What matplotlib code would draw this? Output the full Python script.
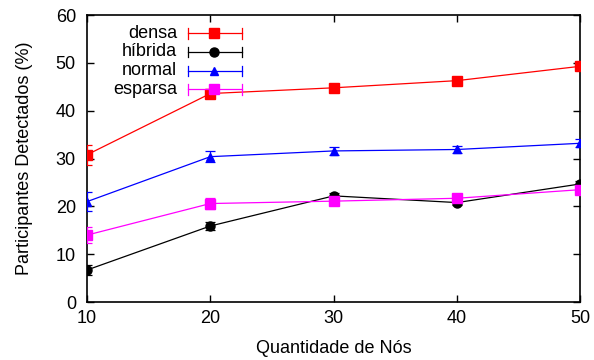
import matplotlib
matplotlib.use("Agg")
import matplotlib.pyplot as plt

plt.rcParams['font.family'] = ['Liberation Sans', 'DejaVu Sans']

nodes = [10, 20, 30, 40, 50]
densa = [30.8, 43.6, 44.8, 46.3, 49.3]
densa_err = [2.1, 1.0, 0.6, 0.6, 0.7]
hibrida = [6.7, 15.9, 22.2, 20.8, 24.7]
hibrida_err = [1.1, 0.8, 0.6, 0.5, 0.6]
normal = [21.0, 30.4, 31.6, 31.9, 33.2]
normal_err = [2.0, 1.2, 0.9, 0.8, 0.8]
esparsa = [14.0, 20.6, 21.1, 21.7, 23.5]
esparsa_err = [1.7, 1.2, 0.6, 0.5, 0.6]

labels = ['densa', 'híbrida', 'normal', 'esparsa']
xticks = [10, 20, 30, 40, 50]
yticks = [0, 10, 20, 30, 40, 50, 60]

series = [
    (densa, densa_err, '#ff0000', 's', 7),
    (hibrida, hibrida_err, '#000000', 'o', 6.5),
    (normal, normal_err, '#0000ff', '^', 5.5),
    (esparsa, esparsa_err, '#ff00ff', 's', 7),
]

fs = 13
fig = plt.figure(figsize=(5.94, 3.6), dpi=100)
ax = fig.add_axes([0.1465, 0.161, 0.977 - 0.1465, 0.958 - 0.161])

for (vals, errs, col, mk, ms), lab in zip(series, labels):
    ax.errorbar(nodes, vals, yerr=errs, color=col, marker=mk, markersize=ms,
                lw=0.9, elinewidth=0.9, capsize=3.5, capthick=0.9, zorder=3)

# gnuplot-style legend drawn in axes fraction
ys = [0.936, 0.872, 0.806, 0.741]
x0, x1, xm = 0.205, 0.314, 0.2576
for (vals, errs, col, mk, ms), lab, yy in zip(series, labels, ys):
    ax.text(0.1826, yy, lab, transform=ax.transAxes, ha='right', va='center', fontsize=fs)
    ax.plot([x0, x1], [yy, yy], transform=ax.transAxes, color=col, lw=0.9, clip_on=False, zorder=4)
    for xc in (x0, x1):
        ax.plot([xc, xc], [yy - 0.018, yy + 0.018], transform=ax.transAxes, color=col, lw=0.9, clip_on=False, zorder=4)
    ax.plot([xm], [yy], transform=ax.transAxes, color=col, marker=mk, markersize=ms, clip_on=False, zorder=5)

ax.set_xlim(10, 50)
ax.set_ylim(0, 60)
ax.set_xticks(xticks)
ax.set_yticks(yticks)
ax.tick_params(direction='in', length=5, width=1, top=True, right=True, labelsize=fs)
ax.tick_params(axis='x', pad=6)
ax.tick_params(axis='y', pad=8)
for sp in ax.spines.values():
    sp.set_linewidth(1.2)
ax.set_xlabel('Quantidade de Nós', fontsize=fs, labelpad=9)
ax.set_ylabel('Participantes Detectados (%)', fontsize=fs, labelpad=16)

fig.savefig('out.png', dpi=100)
